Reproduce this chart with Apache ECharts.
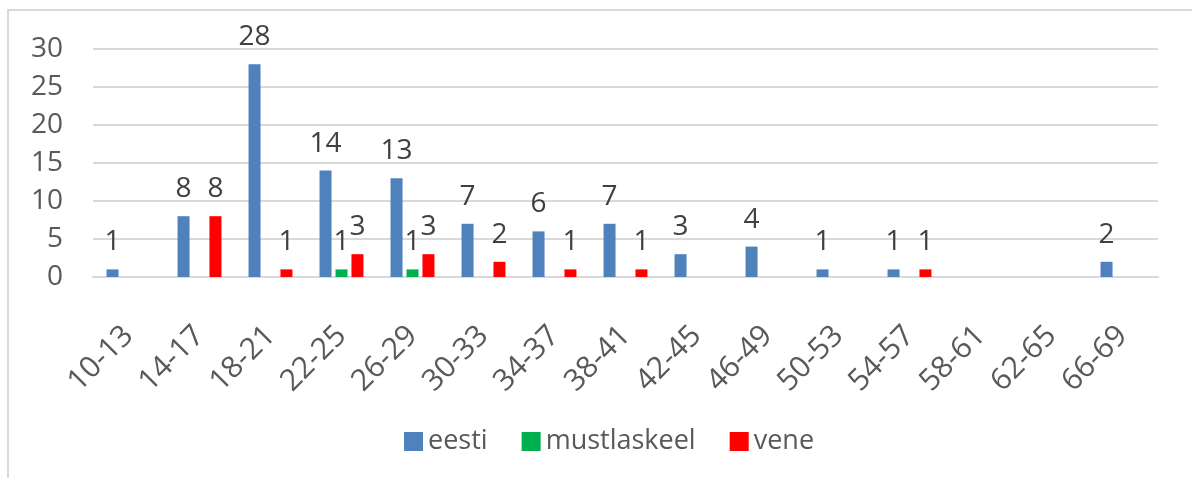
<!DOCTYPE html>
<html>
<head>
<meta charset="utf-8">
<script src="https://cdn.jsdelivr.net/npm/echarts@6/dist/echarts.min.js"></script>
<style>
  html, body { margin: 0; padding: 0; background: #fff; }
  #chart { width: 1192px; height: 478px; }
</style>
</head>
<body>
<div id="chart"></div>
<script>
// vanuserühmad
const categories = ['10-13', '14-17', '18-21', '22-25', '26-29', '30-33', '34-37', '38-41',
  '42-45', '46-49', '50-53', '54-57', '58-61', '62-65', '66-69'];
const eesti = [1, 8, 28, 14, 13, 7, 6, 7, 3, 4, 1, 1, null, null, 2];
const mustlaskeel = [null, null, null, 1, 1, null, null, null, null, null, null, null, null, null, null];
const vene = [null, 8, 1, 3, 3, 2, 1, 1, null, null, null, 1, null, null, null];
const yTicks = [0, 5, 10, 15, 20, 25, 30];

const font = '"Open Sans", sans-serif';

const makeSeries = (name, data, color) => ({
  name: name,
  type: 'bar',
  data: data,
  barWidth: 12,
  barGap: '33%',
  itemStyle: { color: color },
  label: {
    show: true,
    position: 'top',
    distance: 13,
    fontFamily: font,
    fontSize: 28,
    color: '#404040'
  }
});

const chart = echarts.init(document.getElementById('chart'), null, { renderer: 'canvas' });
const option = {
  animation: false,
  textStyle: { fontFamily: font },
  graphic: [
    {
      type: 'rect',
      shape: { x: 8, y: 10, width: 2000, height: 2000 },
      style: { fill: 'none', stroke: '#d9d9d9', lineWidth: 2 },
      silent: true
    }
  ],
  legend: {
    data: ['eesti', 'mustlaskeel', 'vene'],
    left: 399,
    top: 423,
    icon: 'rect',
    itemWidth: 19,
    itemHeight: 19,
    itemGap: 34,
    textStyle: { fontFamily: font, fontSize: 27, color: '#595959' }
  },
  grid: {
    left: 93,
    right: 34,
    top: 49,
    bottom: 201,
    containLabel: false
  },
  xAxis: {
    type: 'category',
    data: categories,
    axisLine: { show: true, lineStyle: { color: '#d9d9d9', width: 2 } },
    axisTick: { show: false },
    axisLabel: {
      interval: 0,
      rotate: 45,
      margin: 54,
      fontFamily: font,
      fontSize: 30,
      color: '#595959'
    }
  },
  yAxis: {
    type: 'value',
    min: yTicks[0],
    max: yTicks[yTicks.length - 1],
    interval: 5,
    axisLine: { show: false },
    axisTick: { show: false },
    splitLine: { show: true, lineStyle: { color: '#d9d9d9', width: 2 } },
    axisLabel: {
      margin: 30,
      fontFamily: font,
      fontSize: 28,
      color: '#595959'
    }
  },
  series: [
    makeSeries('eesti', eesti, '#4f81bd'),
    makeSeries('mustlaskeel', mustlaskeel, '#00b050'),
    makeSeries('vene', vene, '#ff0000')
  ]
};
chart.setOption(option);
</script>
</body>
</html>
